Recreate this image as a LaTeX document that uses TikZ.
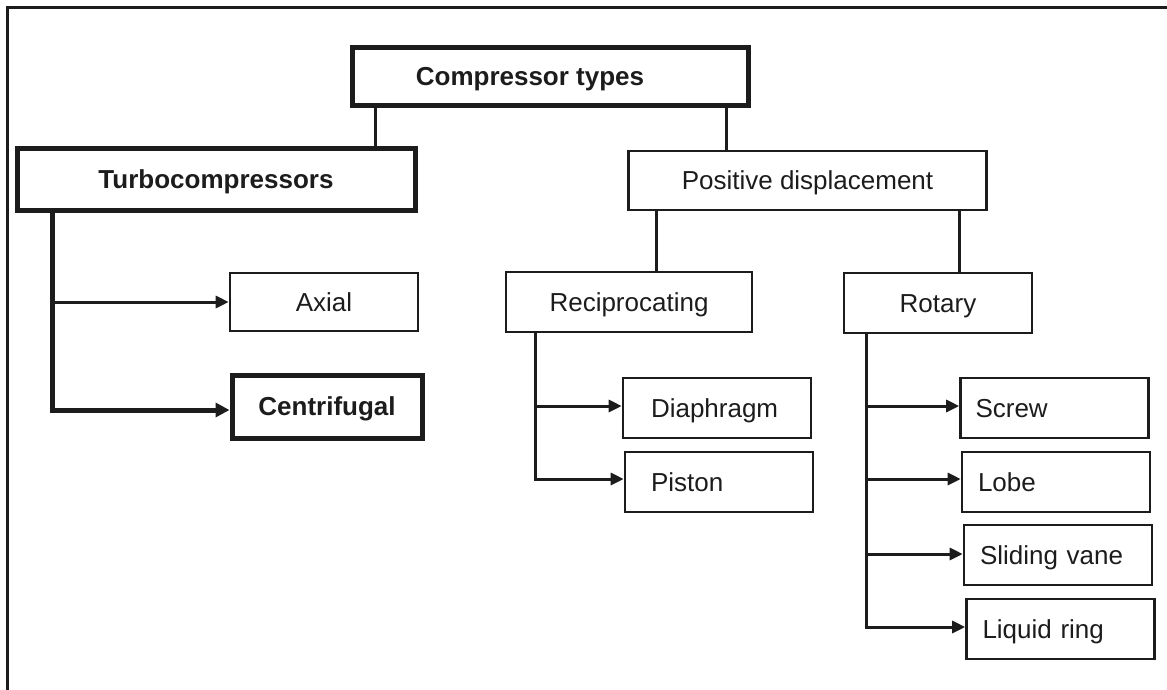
\documentclass[tikz,border=0pt]{standalone}
\usepackage{fontspec}
\setmainfont{Liberation Sans}
\usetikzlibrary{arrows.meta}
\definecolor{ink}{HTML}{1C1C1C}
\begin{document}
\begin{tikzpicture}[x=1pt,y=-1pt,
  every node/.style={font=\fontsize{26}{30}\selectfont, text=ink},
  box/.style={draw=ink, line width=2.6pt, rectangle, inner sep=0pt,
              minimum height=60pt, text height=18.6pt, text depth=0pt},
  boldbox/.style={box, line width=5pt, font=\fontsize{26}{30}\selectfont\bfseries},
  leftbox/.style={box, align=left, inner xsep=#1, text width=188pt-2*#1},
  link/.style={draw=ink, line width=3pt},
  boldlink/.style={draw=ink, line width=5pt},
  tip/.style={-{Triangle[length=13pt,width=12pt]}},
  boldtip/.style={-{Triangle[length=14pt,width=14pt]}}
]
\useasboundingbox (0,0) rectangle (1167,689);

% frame
\draw[ink, line width=3pt] (7.5,700) -- (7.5,7.5) -- (1175,7.5);

% level 0 and 1
\node[boldbox, minimum width=396pt, minimum height=58pt] (ct) at (550,76)
  {\hspace*{-40pt}Compressor types};
\node[boldbox, minimum width=398pt, minimum height=62pt] (turbo) at (216,179) {Turbocompressors};
\node[box, minimum width=358pt, minimum height=59pt] (pd) at (807.5,180.5) {Positive displacement};

% turbocompressor branches
\node[box, minimum width=188pt, minimum height=58pt] (axial) at (324,302) {Axial};
\node[boldbox, minimum width=190pt, minimum height=63pt] (centri) at (327,406.5) {Centrifugal};

% positive displacement branches
\node[box, minimum width=246pt] (recip) at (629,302) {Reciprocating};
\node[box, minimum width=188pt] (rotary) at (938,303) {Rotary};

\node[leftbox=28pt] (diaph) at (717,408) {Diaphragm};
\node[leftbox=26pt] (piston) at (719,482) {Piston};

\node[leftbox=15pt] (screw) at (1054.5,408) {Screw};
\node[leftbox=16pt] (lobe) at (1056,482) {Lobe};
\node[leftbox=16pt] (vane) at (1058,555) {Sliding vane};
\node[leftbox=16pt] (liquid) at (1060.5,629) {Liquid ring};

% vertical positions of the drop lines
\coordinate (xa) at (375,0);
\coordinate (xb) at (726.5,0);
\coordinate (xc) at (656.5,0);
\coordinate (xd) at (959.5,0);

\draw[link] (ct.south -| xa) -- (turbo.north -| xa);
\draw[link] (ct.south -| xb) -- (pd.north -| xb);
\draw[link] (pd.south -| xc) -- (recip.north -| xc);
\draw[link] (pd.south -| xd) -- (rotary.north -| xd);

% turbocompressor trunk
\coordinate (t1) at (52,302);
\coordinate (t2) at (52,410);
\draw[boldlink, line cap=rect] (turbo.south -| t2) -- (t2);
\draw[link, tip] (t1) -- (t1 -| axial.west);
\draw[boldlink, boldtip] ([xshift=-2.5pt]t2) -- (t2 -| centri.west);

% reciprocating trunk
\coordinate (r1) at (535.5,406);
\coordinate (r2) at (535.5,479);
\draw[link] (recip.south -| r2) -- ([yshift=1.5pt]r2);
\draw[link, tip] ([xshift=-1.5pt]r1) -- (r1 -| diaph.west);
\draw[link, tip] ([xshift=-1.5pt]r2) -- (r2 -| piston.west);

% rotary trunk
\coordinate (q1) at (866,406);
\coordinate (q2) at (866,479);
\coordinate (q3) at (866,554);
\coordinate (q4) at (866,627);
\draw[link] (rotary.south -| q4) -- ([yshift=1.5pt]q4);
\draw[link, tip] ([xshift=-1.5pt]q1) -- (q1 -| screw.west);
\draw[link, tip] ([xshift=-1.5pt]q2) -- (q2 -| lobe.west);
\draw[link, tip] ([xshift=-1.5pt]q3) -- (q3 -| vane.west);
\draw[link, tip] ([xshift=-1.5pt]q4) -- (q4 -| liquid.west);
\end{tikzpicture}
\end{document}
